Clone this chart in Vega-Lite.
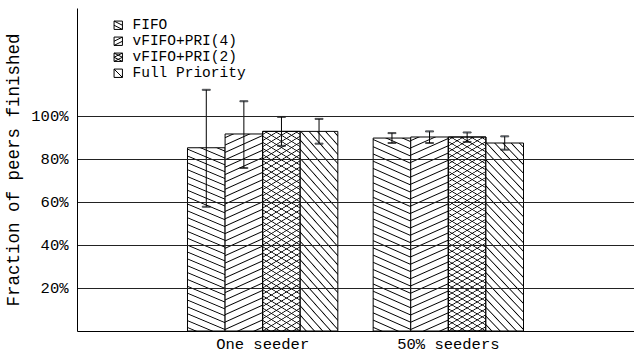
{
  "$schema": "https://vega.github.io/schema/vega-lite/v6.json",
  "autosize": "none",
  "width": 557,
  "height": 323,
  "padding": {"left": 77, "top": 8, "right": 0, "bottom": 25},
  "background": "white",
  "config": {
    "view": {"stroke": null},
    "font": "Liberation Mono"
  },
  "data": {
    "values": [
      {"cat": "One seeder", "series": "FIFO", "value": 0.851, "lo": 0.577, "hi": 1.12},
      {"cat": "One seeder", "series": "vFIFO+PRI(4)", "value": 0.915, "lo": 0.757, "hi": 1.067},
      {"cat": "One seeder", "series": "vFIFO+PRI(2)", "value": 0.927, "lo": 0.86, "hi": 0.994},
      {"cat": "One seeder", "series": "Full Priority", "value": 0.927, "lo": 0.87, "hi": 0.985},
      {"cat": "50% seeders", "series": "FIFO", "value": 0.896, "lo": 0.873, "hi": 0.919},
      {"cat": "50% seeders", "series": "vFIFO+PRI(4)", "value": 0.901, "lo": 0.873, "hi": 0.927},
      {"cat": "50% seeders", "series": "vFIFO+PRI(2)", "value": 0.901, "lo": 0.878, "hi": 0.922},
      {"cat": "50% seeders", "series": "Full Priority", "value": 0.873, "lo": 0.842, "hi": 0.904}
    ]
  },
  "encoding": {
    "x": {
      "field": "cat", "type": "nominal", "sort": ["One seeder", "50% seeders"],
      "scale": {"paddingInner": 0, "paddingOuter": 0.5},
      "axis": {"title": null, "labelAngle": 0, "ticks": false, "labelFontSize": 15.5, "labelPadding": 5, "domainColor": "black", "labelColor": "black", "labelFont": "Liberation Mono"}
    },
    "xOffset": {
      "field": "series", "type": "nominal",
      "scale": {"domain": ["FIFO", "vFIFO+PRI(4)", "vFIFO+PRI(2)", "Full Priority"], "paddingInner": 0, "paddingOuter": 0.47}
    },
    "y": {
      "field": "value", "type": "quantitative", "title": "Fraction of peers finished",
      "scale": {"domain": [0, 1.5], "nice": false},
      "axis": {"values": [0.2, 0.4, 0.6, 0.8, 1], "format": ".0%", "grid": true, "gridColor": "#222", "gridWidth": 1, "ticks": false, "domainColor": "black", "labelColor": "black", "labelFontSize": 15.5, "labelPadding": 9, "labelFont": "Liberation Mono", "titleFont": "Liberation Mono", "titleFontSize": 17.5, "titleFontWeight": "normal", "titleColor": "black", "titlePadding": 8, "zindex": 1}
    },
    "stroke": {
      "field": "series", "type": "nominal",
      "scale": {"domain": ["FIFO", "vFIFO+PRI(4)", "vFIFO+PRI(2)", "Full Priority"], "range": ["black", "black", "black", "black"]},
      "legend": {
        "title": null, "orient": "none", "legendX": 34, "legendY": 10,
        "labelFont": "Liberation Mono", "labelFontSize": 14.5, "labelColor": "black",
        "symbolSize": 70, "rowPadding": 1, "labelOffset": 7,
        "encode": {"symbols": {"update": {
          "shape": {"signal": "datum.value === 'FIFO' ? 'M-1,-1H1V1H-1Z M-1,-1L1,0 M-1,0L1,1' : datum.value === 'vFIFO+PRI(4)' ? 'M-1,-1H1V1H-1Z M-1,0L1,-1 M-1,1L1,0' : datum.value === 'vFIFO+PRI(2)' ? 'M-1,-1H1V1H-1Z M-1,-1L1,0 M-1,0L1,1 M-1,0L1,-1 M-1,1L1,0' : 'M-1,-1H1V1H-1Z M-1,-1L1,1'"},
          "fill": {"value": "white"},
          "stroke": {"value": "black"},
          "strokeWidth": {"value": 1},
          "opacity": {"value": 1}
        }}}
      }
    }
  },
  "layer": [
    {
      "transform": [{"filter": "datum.series === 'FIFO'"}],
      "mark": {"type": "bar", "strokeWidth": 1, "fill": {"gradient": "linear", "x1": 1, "y1": 0, "x2": 0.872, "y2": 1.4865, "stops": [
        {"offset":0.009,"color":"#fff"},{"offset":0.0125,"color":"#000"},{"offset":0.016,"color":"#fff"},
        {"offset":0.034,"color":"#fff"},{"offset":0.0375,"color":"#000"},{"offset":0.041,"color":"#fff"},
        {"offset":0.059,"color":"#fff"},{"offset":0.0625,"color":"#000"},{"offset":0.066,"color":"#fff"},
        {"offset":0.084,"color":"#fff"},{"offset":0.0875,"color":"#000"},{"offset":0.091,"color":"#fff"},
        {"offset":0.109,"color":"#fff"},{"offset":0.1125,"color":"#000"},{"offset":0.116,"color":"#fff"},
        {"offset":0.134,"color":"#fff"},{"offset":0.1375,"color":"#000"},{"offset":0.141,"color":"#fff"},
        {"offset":0.159,"color":"#fff"},{"offset":0.1625,"color":"#000"},{"offset":0.166,"color":"#fff"},
        {"offset":0.184,"color":"#fff"},{"offset":0.1875,"color":"#000"},{"offset":0.191,"color":"#fff"},
        {"offset":0.209,"color":"#fff"},{"offset":0.2125,"color":"#000"},{"offset":0.216,"color":"#fff"},
        {"offset":0.234,"color":"#fff"},{"offset":0.2375,"color":"#000"},{"offset":0.241,"color":"#fff"},
        {"offset":0.259,"color":"#fff"},{"offset":0.2625,"color":"#000"},{"offset":0.266,"color":"#fff"},
        {"offset":0.284,"color":"#fff"},{"offset":0.2875,"color":"#000"},{"offset":0.291,"color":"#fff"},
        {"offset":0.309,"color":"#fff"},{"offset":0.3125,"color":"#000"},{"offset":0.316,"color":"#fff"},
        {"offset":0.334,"color":"#fff"},{"offset":0.3375,"color":"#000"},{"offset":0.341,"color":"#fff"},
        {"offset":0.359,"color":"#fff"},{"offset":0.3625,"color":"#000"},{"offset":0.366,"color":"#fff"},
        {"offset":0.384,"color":"#fff"},{"offset":0.3875,"color":"#000"},{"offset":0.391,"color":"#fff"},
        {"offset":0.409,"color":"#fff"},{"offset":0.4125,"color":"#000"},{"offset":0.416,"color":"#fff"},
        {"offset":0.434,"color":"#fff"},{"offset":0.4375,"color":"#000"},{"offset":0.441,"color":"#fff"},
        {"offset":0.459,"color":"#fff"},{"offset":0.4625,"color":"#000"},{"offset":0.466,"color":"#fff"},
        {"offset":0.484,"color":"#fff"},{"offset":0.4875,"color":"#000"},{"offset":0.491,"color":"#fff"},
        {"offset":0.509,"color":"#fff"},{"offset":0.5125,"color":"#000"},{"offset":0.516,"color":"#fff"},
        {"offset":0.534,"color":"#fff"},{"offset":0.5375,"color":"#000"},{"offset":0.541,"color":"#fff"},
        {"offset":0.559,"color":"#fff"},{"offset":0.5625,"color":"#000"},{"offset":0.566,"color":"#fff"},
        {"offset":0.584,"color":"#fff"},{"offset":0.5875,"color":"#000"},{"offset":0.591,"color":"#fff"},
        {"offset":0.609,"color":"#fff"},{"offset":0.6125,"color":"#000"},{"offset":0.616,"color":"#fff"},
        {"offset":0.634,"color":"#fff"},{"offset":0.6375,"color":"#000"},{"offset":0.641,"color":"#fff"},
        {"offset":0.659,"color":"#fff"},{"offset":0.6625,"color":"#000"},{"offset":0.666,"color":"#fff"},
        {"offset":0.684,"color":"#fff"},{"offset":0.6875,"color":"#000"},{"offset":0.691,"color":"#fff"},
        {"offset":0.709,"color":"#fff"},{"offset":0.7125,"color":"#000"},{"offset":0.716,"color":"#fff"},
        {"offset":0.734,"color":"#fff"},{"offset":0.7375,"color":"#000"},{"offset":0.741,"color":"#fff"}
      ]}}
    },
    {
      "transform": [{"filter": "datum.series === 'vFIFO+PRI(4)'"}],
      "mark": {"type": "bar", "strokeWidth": 1, "fill": {"gradient": "linear", "x1": 0, "y1": 0, "x2": 0.128, "y2": 1.4865, "stops": [
        {"offset":0.009,"color":"#fff"},{"offset":0.0125,"color":"#000"},{"offset":0.016,"color":"#fff"},
        {"offset":0.034,"color":"#fff"},{"offset":0.0375,"color":"#000"},{"offset":0.041,"color":"#fff"},
        {"offset":0.059,"color":"#fff"},{"offset":0.0625,"color":"#000"},{"offset":0.066,"color":"#fff"},
        {"offset":0.084,"color":"#fff"},{"offset":0.0875,"color":"#000"},{"offset":0.091,"color":"#fff"},
        {"offset":0.109,"color":"#fff"},{"offset":0.1125,"color":"#000"},{"offset":0.116,"color":"#fff"},
        {"offset":0.134,"color":"#fff"},{"offset":0.1375,"color":"#000"},{"offset":0.141,"color":"#fff"},
        {"offset":0.159,"color":"#fff"},{"offset":0.1625,"color":"#000"},{"offset":0.166,"color":"#fff"},
        {"offset":0.184,"color":"#fff"},{"offset":0.1875,"color":"#000"},{"offset":0.191,"color":"#fff"},
        {"offset":0.209,"color":"#fff"},{"offset":0.2125,"color":"#000"},{"offset":0.216,"color":"#fff"},
        {"offset":0.234,"color":"#fff"},{"offset":0.2375,"color":"#000"},{"offset":0.241,"color":"#fff"},
        {"offset":0.259,"color":"#fff"},{"offset":0.2625,"color":"#000"},{"offset":0.266,"color":"#fff"},
        {"offset":0.284,"color":"#fff"},{"offset":0.2875,"color":"#000"},{"offset":0.291,"color":"#fff"},
        {"offset":0.309,"color":"#fff"},{"offset":0.3125,"color":"#000"},{"offset":0.316,"color":"#fff"},
        {"offset":0.334,"color":"#fff"},{"offset":0.3375,"color":"#000"},{"offset":0.341,"color":"#fff"},
        {"offset":0.359,"color":"#fff"},{"offset":0.3625,"color":"#000"},{"offset":0.366,"color":"#fff"},
        {"offset":0.384,"color":"#fff"},{"offset":0.3875,"color":"#000"},{"offset":0.391,"color":"#fff"},
        {"offset":0.409,"color":"#fff"},{"offset":0.4125,"color":"#000"},{"offset":0.416,"color":"#fff"},
        {"offset":0.434,"color":"#fff"},{"offset":0.4375,"color":"#000"},{"offset":0.441,"color":"#fff"},
        {"offset":0.459,"color":"#fff"},{"offset":0.4625,"color":"#000"},{"offset":0.466,"color":"#fff"},
        {"offset":0.484,"color":"#fff"},{"offset":0.4875,"color":"#000"},{"offset":0.491,"color":"#fff"},
        {"offset":0.509,"color":"#fff"},{"offset":0.5125,"color":"#000"},{"offset":0.516,"color":"#fff"},
        {"offset":0.534,"color":"#fff"},{"offset":0.5375,"color":"#000"},{"offset":0.541,"color":"#fff"},
        {"offset":0.559,"color":"#fff"},{"offset":0.5625,"color":"#000"},{"offset":0.566,"color":"#fff"},
        {"offset":0.584,"color":"#fff"},{"offset":0.5875,"color":"#000"},{"offset":0.591,"color":"#fff"},
        {"offset":0.609,"color":"#fff"},{"offset":0.6125,"color":"#000"},{"offset":0.616,"color":"#fff"},
        {"offset":0.634,"color":"#fff"},{"offset":0.6375,"color":"#000"},{"offset":0.641,"color":"#fff"},
        {"offset":0.659,"color":"#fff"},{"offset":0.6625,"color":"#000"},{"offset":0.666,"color":"#fff"},
        {"offset":0.684,"color":"#fff"},{"offset":0.6875,"color":"#000"},{"offset":0.691,"color":"#fff"},
        {"offset":0.709,"color":"#fff"},{"offset":0.7125,"color":"#000"},{"offset":0.716,"color":"#fff"},
        {"offset":0.734,"color":"#fff"},{"offset":0.7375,"color":"#000"},{"offset":0.741,"color":"#fff"}
      ]}}
    },
    {
      "transform": [{"filter": "datum.series === 'vFIFO+PRI(2)'"}],
      "mark": {"type": "bar", "strokeWidth": 1, "fill": {"gradient": "linear", "x1": 0, "y1": 0, "x2": 0.1394, "y2": 1.2148, "stops": [
        {"offset":0.009,"color":"#fff"},{"offset":0.0125,"color":"#000"},{"offset":0.016,"color":"#fff"},
        {"offset":0.034,"color":"#fff"},{"offset":0.0375,"color":"#000"},{"offset":0.041,"color":"#fff"},
        {"offset":0.059,"color":"#fff"},{"offset":0.0625,"color":"#000"},{"offset":0.066,"color":"#fff"},
        {"offset":0.084,"color":"#fff"},{"offset":0.0875,"color":"#000"},{"offset":0.091,"color":"#fff"},
        {"offset":0.109,"color":"#fff"},{"offset":0.1125,"color":"#000"},{"offset":0.116,"color":"#fff"},
        {"offset":0.134,"color":"#fff"},{"offset":0.1375,"color":"#000"},{"offset":0.141,"color":"#fff"},
        {"offset":0.159,"color":"#fff"},{"offset":0.1625,"color":"#000"},{"offset":0.166,"color":"#fff"},
        {"offset":0.184,"color":"#fff"},{"offset":0.1875,"color":"#000"},{"offset":0.191,"color":"#fff"},
        {"offset":0.209,"color":"#fff"},{"offset":0.2125,"color":"#000"},{"offset":0.216,"color":"#fff"},
        {"offset":0.234,"color":"#fff"},{"offset":0.2375,"color":"#000"},{"offset":0.241,"color":"#fff"},
        {"offset":0.259,"color":"#fff"},{"offset":0.2625,"color":"#000"},{"offset":0.266,"color":"#fff"},
        {"offset":0.284,"color":"#fff"},{"offset":0.2875,"color":"#000"},{"offset":0.291,"color":"#fff"},
        {"offset":0.309,"color":"#fff"},{"offset":0.3125,"color":"#000"},{"offset":0.316,"color":"#fff"},
        {"offset":0.334,"color":"#fff"},{"offset":0.3375,"color":"#000"},{"offset":0.341,"color":"#fff"},
        {"offset":0.359,"color":"#fff"},{"offset":0.3625,"color":"#000"},{"offset":0.366,"color":"#fff"},
        {"offset":0.384,"color":"#fff"},{"offset":0.3875,"color":"#000"},{"offset":0.391,"color":"#fff"},
        {"offset":0.409,"color":"#fff"},{"offset":0.4125,"color":"#000"},{"offset":0.416,"color":"#fff"},
        {"offset":0.434,"color":"#fff"},{"offset":0.4375,"color":"#000"},{"offset":0.441,"color":"#fff"},
        {"offset":0.459,"color":"#fff"},{"offset":0.4625,"color":"#000"},{"offset":0.466,"color":"#fff"},
        {"offset":0.484,"color":"#fff"},{"offset":0.4875,"color":"#000"},{"offset":0.491,"color":"#fff"},
        {"offset":0.509,"color":"#fff"},{"offset":0.5125,"color":"#000"},{"offset":0.516,"color":"#fff"},
        {"offset":0.534,"color":"#fff"},{"offset":0.5375,"color":"#000"},{"offset":0.541,"color":"#fff"},
        {"offset":0.559,"color":"#fff"},{"offset":0.5625,"color":"#000"},{"offset":0.566,"color":"#fff"},
        {"offset":0.584,"color":"#fff"},{"offset":0.5875,"color":"#000"},{"offset":0.591,"color":"#fff"},
        {"offset":0.609,"color":"#fff"},{"offset":0.6125,"color":"#000"},{"offset":0.616,"color":"#fff"},
        {"offset":0.634,"color":"#fff"},{"offset":0.6375,"color":"#000"},{"offset":0.641,"color":"#fff"},
        {"offset":0.659,"color":"#fff"},{"offset":0.6625,"color":"#000"},{"offset":0.666,"color":"#fff"},
        {"offset":0.684,"color":"#fff"},{"offset":0.6875,"color":"#000"},{"offset":0.691,"color":"#fff"},
        {"offset":0.709,"color":"#fff"},{"offset":0.7125,"color":"#000"},{"offset":0.716,"color":"#fff"},
        {"offset":0.734,"color":"#fff"},{"offset":0.7375,"color":"#000"},{"offset":0.741,"color":"#fff"},
        {"offset":0.759,"color":"#fff"},{"offset":0.7625,"color":"#000"},{"offset":0.766,"color":"#fff"},
        {"offset":0.784,"color":"#fff"},{"offset":0.7875,"color":"#000"},{"offset":0.791,"color":"#fff"},
        {"offset":0.809,"color":"#fff"},{"offset":0.8125,"color":"#000"},{"offset":0.816,"color":"#fff"},
        {"offset":0.834,"color":"#fff"},{"offset":0.8375,"color":"#000"},{"offset":0.841,"color":"#fff"},
        {"offset":0.859,"color":"#fff"},{"offset":0.8625,"color":"#000"},{"offset":0.866,"color":"#fff"},
        {"offset":0.884,"color":"#fff"},{"offset":0.8875,"color":"#000"},{"offset":0.891,"color":"#fff"},
        {"offset":0.909,"color":"#fff"},{"offset":0.9125,"color":"#000"},{"offset":0.916,"color":"#fff"}
      ]}}
    },
    {
      "transform": [{"filter": "datum.series === 'vFIFO+PRI(2)'"}],
      "mark": {"type": "bar", "strokeWidth": 1, "fill": {"gradient": "linear", "x1": 1, "y1": 0, "x2": 0.8606, "y2": 1.2148, "stops": [
        {"offset":0.009,"color":"transparent"},{"offset":0.0125,"color":"#000"},{"offset":0.016,"color":"transparent"},
        {"offset":0.034,"color":"transparent"},{"offset":0.0375,"color":"#000"},{"offset":0.041,"color":"transparent"},
        {"offset":0.059,"color":"transparent"},{"offset":0.0625,"color":"#000"},{"offset":0.066,"color":"transparent"},
        {"offset":0.084,"color":"transparent"},{"offset":0.0875,"color":"#000"},{"offset":0.091,"color":"transparent"},
        {"offset":0.109,"color":"transparent"},{"offset":0.1125,"color":"#000"},{"offset":0.116,"color":"transparent"},
        {"offset":0.134,"color":"transparent"},{"offset":0.1375,"color":"#000"},{"offset":0.141,"color":"transparent"},
        {"offset":0.159,"color":"transparent"},{"offset":0.1625,"color":"#000"},{"offset":0.166,"color":"transparent"},
        {"offset":0.184,"color":"transparent"},{"offset":0.1875,"color":"#000"},{"offset":0.191,"color":"transparent"},
        {"offset":0.209,"color":"transparent"},{"offset":0.2125,"color":"#000"},{"offset":0.216,"color":"transparent"},
        {"offset":0.234,"color":"transparent"},{"offset":0.2375,"color":"#000"},{"offset":0.241,"color":"transparent"},
        {"offset":0.259,"color":"transparent"},{"offset":0.2625,"color":"#000"},{"offset":0.266,"color":"transparent"},
        {"offset":0.284,"color":"transparent"},{"offset":0.2875,"color":"#000"},{"offset":0.291,"color":"transparent"},
        {"offset":0.309,"color":"transparent"},{"offset":0.3125,"color":"#000"},{"offset":0.316,"color":"transparent"},
        {"offset":0.334,"color":"transparent"},{"offset":0.3375,"color":"#000"},{"offset":0.341,"color":"transparent"},
        {"offset":0.359,"color":"transparent"},{"offset":0.3625,"color":"#000"},{"offset":0.366,"color":"transparent"},
        {"offset":0.384,"color":"transparent"},{"offset":0.3875,"color":"#000"},{"offset":0.391,"color":"transparent"},
        {"offset":0.409,"color":"transparent"},{"offset":0.4125,"color":"#000"},{"offset":0.416,"color":"transparent"},
        {"offset":0.434,"color":"transparent"},{"offset":0.4375,"color":"#000"},{"offset":0.441,"color":"transparent"},
        {"offset":0.459,"color":"transparent"},{"offset":0.4625,"color":"#000"},{"offset":0.466,"color":"transparent"},
        {"offset":0.484,"color":"transparent"},{"offset":0.4875,"color":"#000"},{"offset":0.491,"color":"transparent"},
        {"offset":0.509,"color":"transparent"},{"offset":0.5125,"color":"#000"},{"offset":0.516,"color":"transparent"},
        {"offset":0.534,"color":"transparent"},{"offset":0.5375,"color":"#000"},{"offset":0.541,"color":"transparent"},
        {"offset":0.559,"color":"transparent"},{"offset":0.5625,"color":"#000"},{"offset":0.566,"color":"transparent"},
        {"offset":0.584,"color":"transparent"},{"offset":0.5875,"color":"#000"},{"offset":0.591,"color":"transparent"},
        {"offset":0.609,"color":"transparent"},{"offset":0.6125,"color":"#000"},{"offset":0.616,"color":"transparent"},
        {"offset":0.634,"color":"transparent"},{"offset":0.6375,"color":"#000"},{"offset":0.641,"color":"transparent"},
        {"offset":0.659,"color":"transparent"},{"offset":0.6625,"color":"#000"},{"offset":0.666,"color":"transparent"},
        {"offset":0.684,"color":"transparent"},{"offset":0.6875,"color":"#000"},{"offset":0.691,"color":"transparent"},
        {"offset":0.709,"color":"transparent"},{"offset":0.7125,"color":"#000"},{"offset":0.716,"color":"transparent"},
        {"offset":0.734,"color":"transparent"},{"offset":0.7375,"color":"#000"},{"offset":0.741,"color":"transparent"},
        {"offset":0.759,"color":"transparent"},{"offset":0.7625,"color":"#000"},{"offset":0.766,"color":"transparent"},
        {"offset":0.784,"color":"transparent"},{"offset":0.7875,"color":"#000"},{"offset":0.791,"color":"transparent"},
        {"offset":0.809,"color":"transparent"},{"offset":0.8125,"color":"#000"},{"offset":0.816,"color":"transparent"},
        {"offset":0.834,"color":"transparent"},{"offset":0.8375,"color":"#000"},{"offset":0.841,"color":"transparent"},
        {"offset":0.859,"color":"transparent"},{"offset":0.8625,"color":"#000"},{"offset":0.866,"color":"transparent"},
        {"offset":0.884,"color":"transparent"},{"offset":0.8875,"color":"#000"},{"offset":0.891,"color":"transparent"},
        {"offset":0.909,"color":"transparent"},{"offset":0.9125,"color":"#000"},{"offset":0.916,"color":"transparent"}
      ]}}
    },
    {
      "transform": [{"filter": "datum.series === 'Full Priority'"}],
      "mark": {"type": "bar", "strokeWidth": 1, "fill": {"gradient": "linear", "x1": 1, "y1": 0, "x2": 0.628, "y2": 1.768, "stops": [
        {"offset":0.009,"color":"#fff"},{"offset":0.0125,"color":"#000"},{"offset":0.016,"color":"#fff"},
        {"offset":0.034,"color":"#fff"},{"offset":0.0375,"color":"#000"},{"offset":0.041,"color":"#fff"},
        {"offset":0.059,"color":"#fff"},{"offset":0.0625,"color":"#000"},{"offset":0.066,"color":"#fff"},
        {"offset":0.084,"color":"#fff"},{"offset":0.0875,"color":"#000"},{"offset":0.091,"color":"#fff"},
        {"offset":0.109,"color":"#fff"},{"offset":0.1125,"color":"#000"},{"offset":0.116,"color":"#fff"},
        {"offset":0.134,"color":"#fff"},{"offset":0.1375,"color":"#000"},{"offset":0.141,"color":"#fff"},
        {"offset":0.159,"color":"#fff"},{"offset":0.1625,"color":"#000"},{"offset":0.166,"color":"#fff"},
        {"offset":0.184,"color":"#fff"},{"offset":0.1875,"color":"#000"},{"offset":0.191,"color":"#fff"},
        {"offset":0.209,"color":"#fff"},{"offset":0.2125,"color":"#000"},{"offset":0.216,"color":"#fff"},
        {"offset":0.234,"color":"#fff"},{"offset":0.2375,"color":"#000"},{"offset":0.241,"color":"#fff"},
        {"offset":0.259,"color":"#fff"},{"offset":0.2625,"color":"#000"},{"offset":0.266,"color":"#fff"},
        {"offset":0.284,"color":"#fff"},{"offset":0.2875,"color":"#000"},{"offset":0.291,"color":"#fff"},
        {"offset":0.309,"color":"#fff"},{"offset":0.3125,"color":"#000"},{"offset":0.316,"color":"#fff"},
        {"offset":0.334,"color":"#fff"},{"offset":0.3375,"color":"#000"},{"offset":0.341,"color":"#fff"},
        {"offset":0.359,"color":"#fff"},{"offset":0.3625,"color":"#000"},{"offset":0.366,"color":"#fff"},
        {"offset":0.384,"color":"#fff"},{"offset":0.3875,"color":"#000"},{"offset":0.391,"color":"#fff"},
        {"offset":0.409,"color":"#fff"},{"offset":0.4125,"color":"#000"},{"offset":0.416,"color":"#fff"},
        {"offset":0.434,"color":"#fff"},{"offset":0.4375,"color":"#000"},{"offset":0.441,"color":"#fff"},
        {"offset":0.459,"color":"#fff"},{"offset":0.4625,"color":"#000"},{"offset":0.466,"color":"#fff"},
        {"offset":0.484,"color":"#fff"},{"offset":0.4875,"color":"#000"},{"offset":0.491,"color":"#fff"},
        {"offset":0.509,"color":"#fff"},{"offset":0.5125,"color":"#000"},{"offset":0.516,"color":"#fff"},
        {"offset":0.534,"color":"#fff"},{"offset":0.5375,"color":"#000"},{"offset":0.541,"color":"#fff"},
        {"offset":0.559,"color":"#fff"},{"offset":0.5625,"color":"#000"},{"offset":0.566,"color":"#fff"},
        {"offset":0.584,"color":"#fff"},{"offset":0.5875,"color":"#000"},{"offset":0.591,"color":"#fff"},
        {"offset":0.609,"color":"#fff"},{"offset":0.6125,"color":"#000"},{"offset":0.616,"color":"#fff"},
        {"offset":0.634,"color":"#fff"},{"offset":0.6375,"color":"#000"},{"offset":0.641,"color":"#fff"},
        {"offset":0.659,"color":"#fff"},{"offset":0.6625,"color":"#000"},{"offset":0.666,"color":"#fff"},
        {"offset":0.684,"color":"#fff"},{"offset":0.6875,"color":"#000"},{"offset":0.691,"color":"#fff"}
      ]}}
    },
    {
      "mark": {"type": "rule", "strokeWidth": 1},
      "encoding": {
        "y": {"field": "lo", "type": "quantitative", "title": "Fraction of peers finished"},
        "y2": {"field": "hi"}
      }
    },
    {
      "mark": {"type": "tick", "size": 8, "thickness": 1},
      "encoding": {
        "y": {"field": "lo", "type": "quantitative", "title": "Fraction of peers finished"}
      }
    },
    {
      "mark": {"type": "tick", "size": 8, "thickness": 1},
      "encoding": {
        "y": {"field": "hi", "type": "quantitative", "title": "Fraction of peers finished"}
      }
    }
  ]
}
